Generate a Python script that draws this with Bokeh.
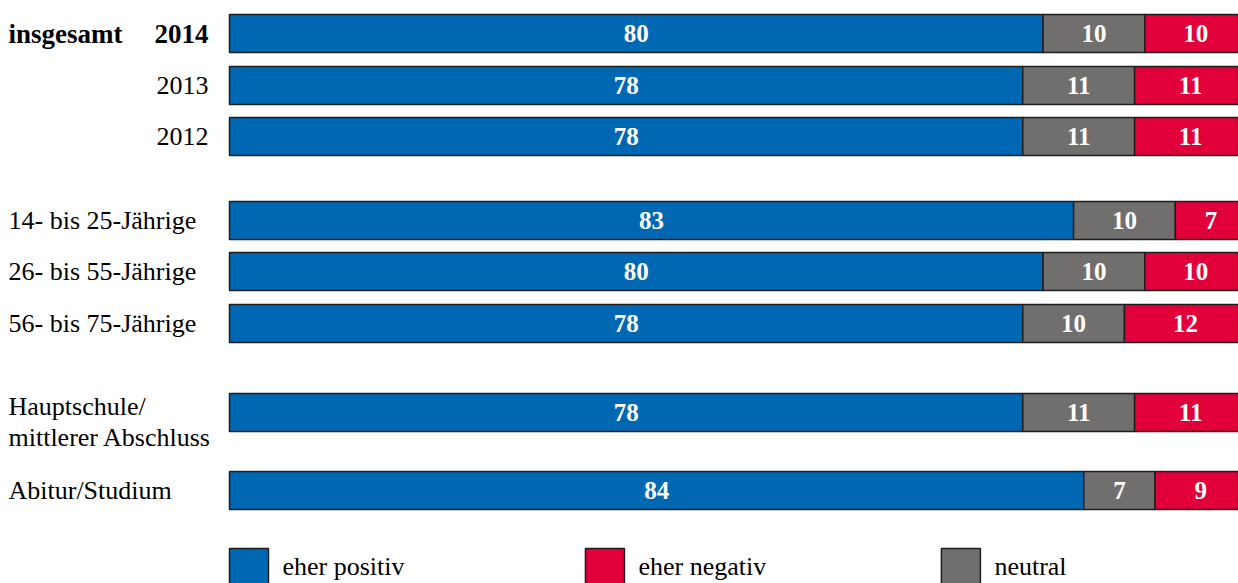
from bokeh.plotting import figure
from bokeh.models import Range1d, ColumnDataSource
from bokeh.core.properties import value
from bokeh.embed import file_html
from bokeh.resources import INLINE

# ---------------- data ----------------
categories = ["2014", "2013", "2012",
              "14- bis 25-Jährige", "26- bis 55-Jährige", "56- bis 75-Jährige",
              "Hauptschule/\nmittlerer Abschluss", "Abitur/Studium"]
eher_positiv = [80, 78, 78, 83, 80, 78, 78, 84]
neutral = [10, 11, 11, 10, 10, 10, 11, 7]
eher_negativ = [10, 11, 11, 7, 10, 12, 11, 9]
group_title = "insgesamt"
series_names = ["eher positiv", "eher negativ", "neutral"]

# ---------------- style / layout ----------------
C_POS, C_NEG, C_NEU = "#0068B3", "#E2003A", "#706F6E"
EDGE = "#1E1E1E"
FONT = value("Liberation Serif")
W, H = 1238, 583
PX = 10.17          # pixels per percent
X0 = 229            # pixel where 0 % lies
row_y = [33, 85, 136, 220, 271, 323, 412, 490]   # row centres (px from top)
BAR_H = 38

p = figure(width=W, height=H,
           x_range=Range1d(-X0 / PX, (W - X0) / PX),
           y_range=Range1d(H, 0),
           output_backend="svg", toolbar_location=None,
           x_axis_location=None, y_axis_location=None,
           min_border=0, background_fill_color="white",
           border_fill_color="white", outline_line_color=None)
p.grid.visible = False

# stacked segments
lefts, rights, ys, cols, mids, vals = [], [], [], [], [], []
for i in range(len(categories)):
    start = 0
    for v, c in ((eher_positiv[i], C_POS), (neutral[i], C_NEU), (eher_negativ[i], C_NEG)):
        lefts.append(start)
        rights.append(start + v)
        ys.append(row_y[i])
        cols.append(c)
        mids.append(start + v / 2)
        vals.append(str(v))
        start += v

src = ColumnDataSource(dict(l=lefts, r=rights, y=ys, c=cols, m=mids, v=vals))
p.hbar(y="y", left="l", right="r", height=BAR_H, fill_color="c",
       line_color=EDGE, line_width=1.5, source=src)
p.text(x="m", y="y", text="v", source=src, text_color="white",
       text_font=FONT, text_font_style="bold", text_font_size="25px",
       text_align="center", text_baseline="middle")

# row labels
FS = "26px"
FSB = "27px"
lab_x_right = -21 / PX
lab_x_left = -X0 / PX + 8 / PX
for i, cat in enumerate(categories):
    if i < 3:
        p.text(x=[lab_x_right], y=[row_y[i]], text=[cat], text_font=FONT,
               text_font_size=FSB if i == 0 else FS, text_align="right",
               text_baseline="middle", text_color="black",
               text_font_style="bold" if i == 0 else "normal")
    else:
        lines = cat.split("\n")
        if len(lines) == 1:
            p.text(x=[lab_x_left], y=[row_y[i]], text=[cat], text_font=FONT,
                   text_font_size=FS, text_align="left", text_baseline="middle",
                   text_color="black")
        else:
            for k, ln in enumerate(lines):
                p.text(x=[lab_x_left], y=[row_y[i]], text=[ln], text_font=FONT,
                       text_font_size=FS, text_align="left", text_baseline="middle",
                       y_offset=-6 + 31 * k, text_color="black")
p.text(x=[lab_x_left], y=[row_y[0]], text=[group_title], text_font=FONT,
       text_font_size=FSB, text_font_style="bold", text_align="left",
       text_baseline="middle", text_color="black")

# legend (manual)
leg_x = [0, 35, 70]
leg_c = [C_POS, C_NEG, C_NEU]
SQ = 39 / PX
p.quad(left=leg_x, right=[x + SQ for x in leg_x], top=[548] * 3, bottom=[590] * 3,
       fill_color=leg_c, line_color=EDGE, line_width=1.5)
p.text(x=[x + 53 / PX for x in leg_x], y=[566] * 3, text=series_names, text_font=FONT,
       text_font_size=FS, text_align="left", text_baseline="middle",
       text_color="black")

open("out.html", "w").write(file_html(p, INLINE))
